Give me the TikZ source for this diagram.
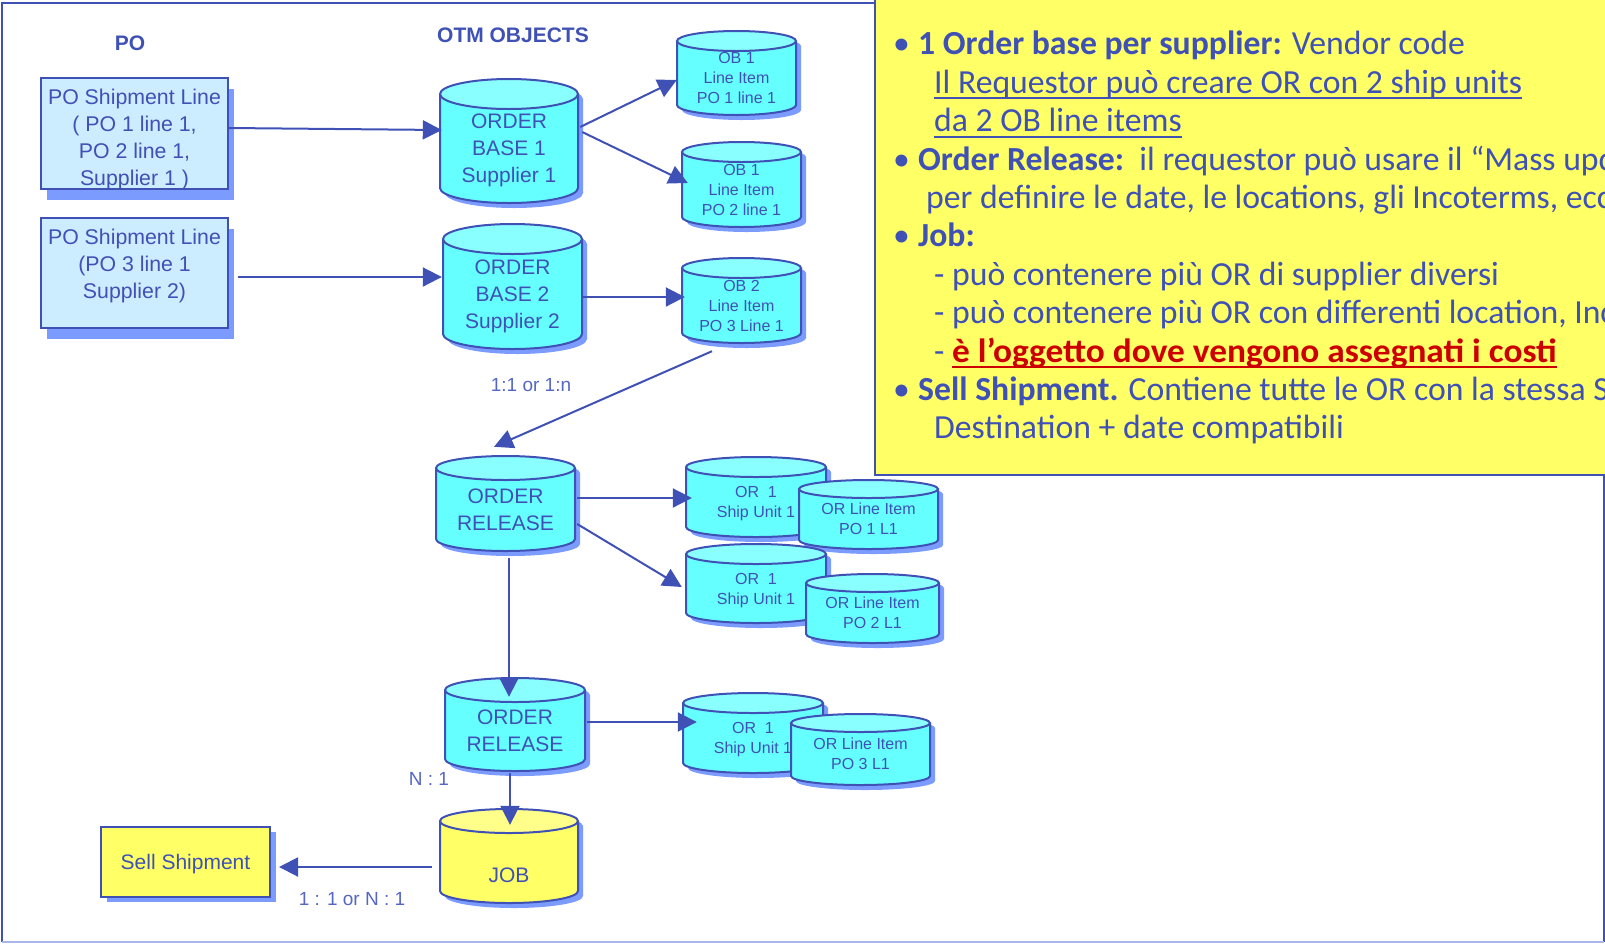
\documentclass[tikz,border=0pt]{standalone}
\usepackage{fontspec}
\setmainfont{Liberation Sans}
\newfontfamily\notefont{Carlito}
\usetikzlibrary{arrows.meta,positioning,shadows}

\definecolor{poblue}{HTML}{3F51B5}
\definecolor{tagblue}{HTML}{5566C4}
\definecolor{shadeblue}{HTML}{7B9BFF}
\definecolor{pofill}{HTML}{CCECFF}
\definecolor{drumcyan}{HTML}{66FFFF}
\definecolor{drumcyantop}{HTML}{8AFFFF}
\definecolor{drumyellow}{HTML}{FFFF66}
\definecolor{drumyellowtop}{HTML}{FFFF8A}
\definecolor{notefill}{HTML}{FFFF66}
\definecolor{costred}{HTML}{CC0000}
\definecolor{framelight}{HTML}{A8B6EC}

% underline with a thick rule
\newsavebox\undlbox
\newcommand{\undl}[1]{\sbox\undlbox{#1}\rlap{\usebox\undlbox}\rule[-6pt]{\wd\undlbox}{1.8pt}}

\tikzset{
  pobox/.style={draw=poblue, line width=2pt, fill=pofill, inner sep=0pt,
    drop shadow={shadow xshift=6pt, shadow yshift=-11pt, fill=shadeblue, opacity=1}},
  potext/.style={text=poblue, align=center, inner sep=0pt, font=\fontsize{21.3}{27}\selectfont},
  sellbox/.style={draw=poblue, line width=2pt, fill=notefill, inner sep=0pt, text=poblue,
    text depth=0pt, font=\fontsize{21}{25}\selectfont,
    drop shadow={shadow xshift=6pt, shadow yshift=-5pt, fill=shadeblue, opacity=1}},
  drumbox/.style={inner sep=0pt, draw=none},
  drumtext/.style={text=poblue, align=center, inner sep=0pt, text depth=0pt},
  drumline/.style={draw=poblue, line width=2pt},
  flowarrow/.style={draw=poblue, line width=2pt, -{Triangle[length=19pt,width=19pt]}},
  headtext/.style={text=poblue, font=\fontsize{21}{25}\selectfont\bfseries, inner sep=0pt},
  ratiotext/.style={text=tagblue, font=\fontsize{19}{23}\selectfont, inner sep=0pt},
  notetext/.style={text=poblue, align=left, inner sep=0pt, font=\notefont\fontsize{33.7}{38.4}\selectfont},
}

% cylinder: [rim] name (left,top,right,bottom) colour text
\def\drum[#1]#2(#3,#4,#5,#6)#7#8{%
  \fill[shadeblue, shift={(5,5)}] (#3,#4+#1) -- (#3,#6-#1)
    arc[start angle=180, end angle=360, x radius={(#5-#3)/2*1pt}, y radius=#1pt]
    -- (#5,#4+#1)
    arc[start angle=0, end angle=180, x radius={(#5-#3)/2*1pt}, y radius=#1pt] -- cycle;
  \path[drumline, fill=#7] (#3,#4+#1) -- (#3,#6-#1)
    arc[start angle=180, end angle=360, x radius={(#5-#3)/2*1pt}, y radius=#1pt]
    -- (#5,#4+#1);
  \path[drumline, fill=#7top] ({(#3+#5)/2},#4+#1) ellipse[x radius={(#5-#3)/2*1pt}, y radius=#1pt];
  \node[drumbox, minimum width={(#5-#3)*1pt}, minimum height={(#6-#4)*1pt}] (#2) at ({(#3+#5)/2},{(#4+#6)/2}) {};
  \node[drumtext] (#2-t) at ({(#3+#5)/2},{(#4+#6+#1)/2}) {#8};
}

\begin{document}
\begin{tikzpicture}[x=1pt, y=-1pt]
\useasboundingbox (0,0) rectangle (1605,943);
\clip (0,0) rectangle (1605,943);

% frame
\draw[line width=2pt, poblue] (1604,942) -- (1604,3) -- (1.5,3) -- (1.5,942);
\draw[line width=2pt, framelight] (1.5,942) -- (1604,942);

% notes
\draw[line width=2pt, draw=poblue, fill=notefill] (875,-10) rectangle (1625,475);
\node[notetext, anchor=north west] (notes) at (893,31) {%
\makebox[25pt][l]{•}\textbf{1 Order base per supplier:} Vendor code\\
\hspace*{41pt}\undl{Il Requestor può creare OR con 2 ship units}\\
\hspace*{41pt}\undl{da 2 OB line items}\\
\makebox[25pt][l]{•}\textbf{Order Release:}\ \ il requestor può usare il “Mass update”\\
\hspace*{33pt}per definire le date, le locations, gli Incoterms, ecc.\\
\makebox[25pt][l]{•}\textbf{Job:}\\
\hspace*{41pt}- può contenere più OR di supplier diversi\\
\hspace*{41pt}- può contenere più OR con differenti location, Incoterms\\
\hspace*{41pt}- \textcolor{costred}{\scalebox{1.048}[1]{\undl{\textbf{è l’oggetto dove vengono assegnati i costi}}}}\\
\makebox[25pt][l]{•}\textbf{Sell Shipment.} Contiene tutte le OR con la stessa Source\\
\hspace*{41pt}Destination + date compatibili};

% headings
\node[headtext] (po-head) at (130,43) {PO};
\node[headtext] (otm-head) at (513,35) {OTM OBJECTS};

% PO lines
\node[pobox, minimum width=187pt, minimum height=111pt] (po1) at (134.5,133.5) {};
\node[potext, below=12pt of po1.north] (po1-t) {PO Shipment Line\\( PO 1 line 1,\\PO 2 line 1,\\Supplier 1 )};
\node[pobox, minimum width=187pt, minimum height=110pt] (po2) at (134.5,273) {};
\node[potext, below=12pt of po2.north] (po2-t) {PO Shipment Line\\(PO 3 line 1\\Supplier 2)};

% big cylinders
\begin{scope}[font=\fontsize{21}{27}\selectfont]
\drum[15]{ob1}(440,79,578,203){drumcyan}{ORDER\\BASE 1\\Supplier 1}
\drum[15]{ob2}(443,224,582,349){drumcyan}{ORDER\\BASE 2\\Supplier 2}
\drum[12]{or1}(436,456,575,551){drumcyan}{ORDER\\RELEASE}
\drum[12]{or2}(445,678,585,771){drumcyan}{ORDER\\RELEASE}
\drum[12]{job}(440,809,578,903){drumyellow}{\rule{0pt}{14pt}\\JOB}
\end{scope}

% small cylinders
\begin{scope}[font=\fontsize{16}{20}\selectfont]
\drum[10]{li1}(677,31,796,115){drumcyan}{OB 1\\Line Item\\PO 1 line 1}
\drum[10]{li2}(682,142,801,227){drumcyan}{OB 1\\Line Item\\PO 2 line 1}
\drum[10]{li3}(682,258,801,343){drumcyan}{OB 2\\Line Item\\PO 3 Line 1}
\drum[10]{su1}(686,457,826,537){drumcyan}{OR\ \ 1\\Ship Unit 1}
\drum[9]{lo1}(799,480,938,549){drumcyan}{OR Line Item\\PO 1 L1}
\drum[10]{su2}(686,544,826,623){drumcyan}{OR\ \ 1\\Ship Unit 1}
\drum[9]{lo2}(806,574,939,643){drumcyan}{OR Line Item\\PO 2 L1}
\drum[10]{su3}(683,693,823,773){drumcyan}{OR\ \ 1\\Ship Unit 1}
\drum[9]{lo3}(791,714,930,785){drumcyan}{OR Line Item\\PO 3 L1}
\end{scope}

\node[sellbox, minimum width=169pt, minimum height=70pt] (sell) at (185.5,862) {Sell Shipment};

% ratios
\node[ratiotext] (ratio-ob) at (531,385) {1:1 or 1:n};
\node[ratiotext] (ratio-or) at (429,779) {N : 1};
\node[ratiotext] (ratio-job) at (352,899) {1 : 1 or N : 1};

% connectors
\draw[flowarrow] ([yshift=5.5pt]po1.east) -- ([xshift=2pt,yshift=11pt]ob1.west);
\draw[flowarrow] ([xshift=9pt,yshift=-4pt]po2.east) -- ([xshift=-1pt,yshift=9.5pt]ob2.west);
\draw[flowarrow] ([xshift=2pt,yshift=14pt]ob1.east) -- ([yshift=-7pt]li1.west);
\draw[flowarrow] ([xshift=4pt,yshift=9pt]ob1.east) -- ([xshift=6pt,yshift=1.5pt]li2.west);
\draw[flowarrow] ([xshift=1pt,yshift=-10.5pt]ob2.east) -- ([xshift=3pt,yshift=3.5pt]li3.west);
\draw[flowarrow] ([xshift=-29.5pt,yshift=-8pt]li3.south) -- ([xshift=-11.5pt,yshift=9pt]or1.north);
\draw[flowarrow] ([xshift=2pt,yshift=5.5pt]or1.east) -- ([xshift=6pt,yshift=-1pt]su1.west);
\draw[flowarrow] ([xshift=2pt,yshift=-20.5pt]or1.east) -- ([xshift=-4pt,yshift=-3.5pt]su2.west);
\draw[flowarrow] ([xshift=3.5pt,yshift=-7pt]or1.south) -- ([xshift=-6pt,yshift=-19pt]or2.north);
\draw[flowarrow] ([xshift=2pt,yshift=2.5pt]or2.east) -- ([xshift=14pt,yshift=11pt]su3.west);
\draw[flowarrow] ([xshift=-5pt,yshift=-2pt]or2.south) -- ([xshift=1pt,yshift=-16pt]job.north);
\draw[flowarrow] ([xshift=-8pt,yshift=-11pt]job.west) -- ([xshift=8pt,yshift=-5pt]sell.east);
\end{tikzpicture}
\end{document}
